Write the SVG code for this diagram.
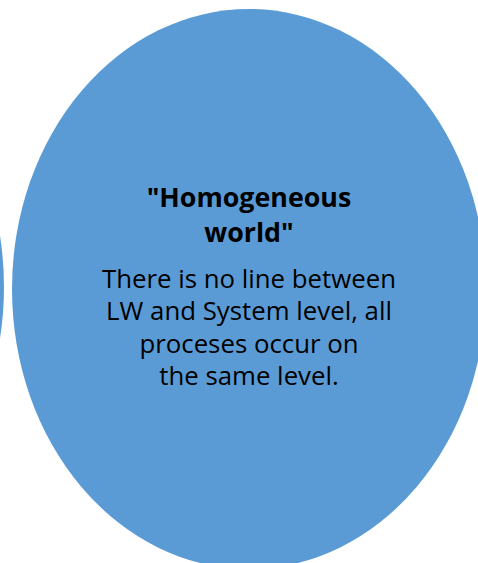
<svg xmlns="http://www.w3.org/2000/svg" width="478" height="563" viewBox="0 0 478 563">
  <style>
    .bubble { fill: #5B9BD5; }
    .title { font-family: "Open Sans", "Liberation Sans", sans-serif; font-size: 26.8px; font-weight: bold; fill: #000; text-anchor: middle; }
    .body { font-family: "Open Sans", "Liberation Sans", sans-serif; font-size: 25.8px; fill: #000; text-anchor: middle; }
  </style>
  <rect width="478" height="563" fill="#ffffff"/>
  <!-- neighbouring bubble, mostly off-canvas on the left -->
  <g id="node-left">
    <ellipse class="bubble" cx="-233" cy="287" rx="237" ry="280"/>
  </g>
  <!-- main bubble -->
  <g id="node-homogeneous">
    <ellipse class="bubble" cx="249" cy="289" rx="237" ry="280"/>
    <text class="title" x="249" y="207">"Homogeneous</text>
    <text class="title" x="249" y="242">world"</text>
    <text class="body" x="249" y="288">There is no line between</text>
    <text class="body" x="249" y="320">LW and System level, all</text>
    <text class="body" x="249" y="353">proceses occur on</text>
    <text class="body" x="249" y="385">the same level.</text>
  </g>
  <g id="connectors"/>
</svg>
